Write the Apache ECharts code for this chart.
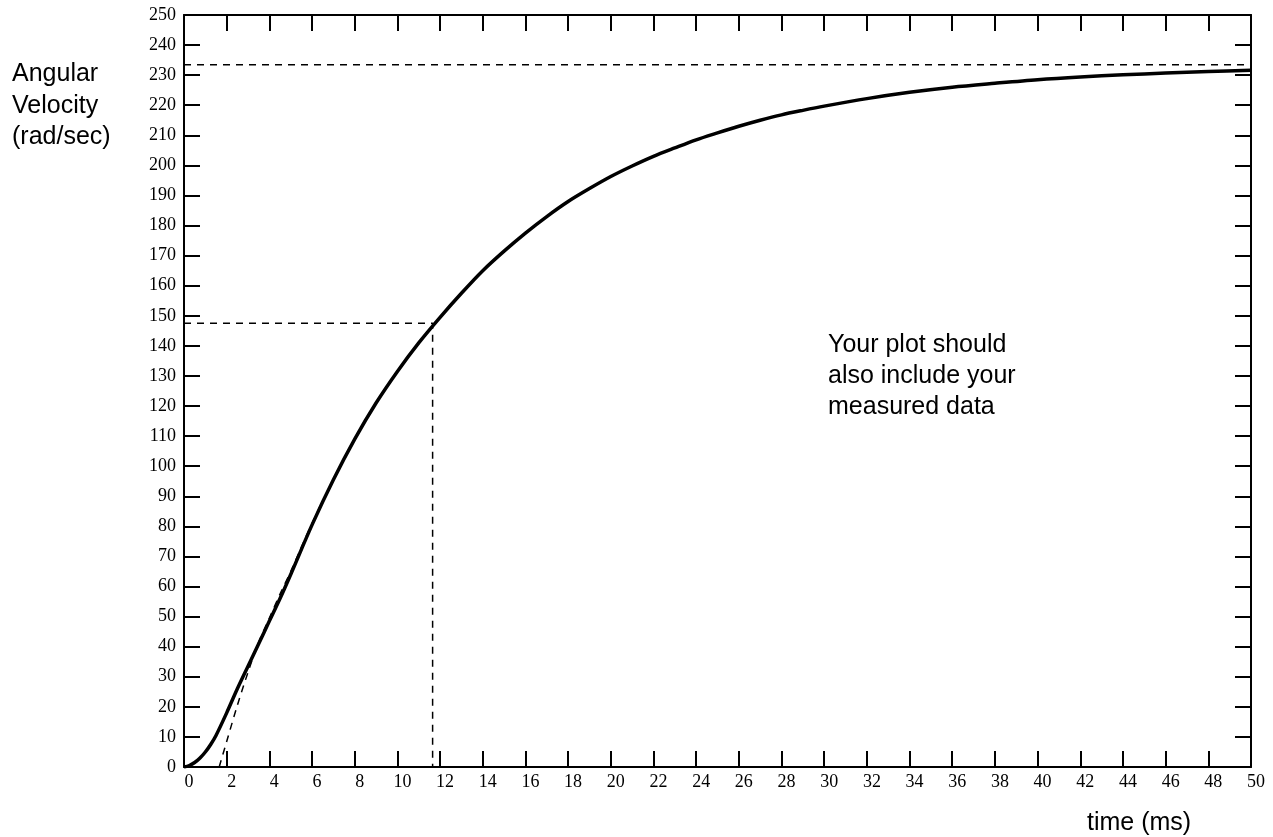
<!DOCTYPE html>
<html>
<head>
<meta charset="utf-8">
<script src="https://cdn.jsdelivr.net/npm/echarts@6/dist/echarts.min.js"></script>
<style>
html,body{margin:0;padding:0;background:#fff;}
#chart{width:1273px;height:837px;}
</style>
</head>
<body>
<div id="chart"></div>
<script>
// Measured response (solid curve)
var measuredTime = [0,0.25,0.5,0.75,1,1.25,1.5,2,2.5,3,3.5,4,4.5,5,6,7,8,9,10,11,12,13,14,15,16,17,18,19,20,21,22,23,24,25,26,27,28,29,30,32,34,36,38,40,42,44,46,48,50];
var measuredVelocity = [0,0.5,1.5,3,5,7.5,10.5,18,26,33.5,41,48.5,56,64,80.5,95.5,109,121,131.5,141,149.5,157.5,165,171.5,177.5,183,188,192.3,196.3,199.8,203,205.8,208.5,210.8,213,215,216.8,218.3,219.7,222.2,224.3,226,227.3,228.5,229.4,230.1,230.7,231.2,231.6];
// Model fit (dashed curve)
var modelTime = [1.65,2,2.5,3,3.5,4,4.5,5,6,7,8,9,10,11,12,13,14,15,16,17,18,19,20,21,22,23,24,25,26,27,28,29,30,32,34,36,38,40,42,44,46,48,50];
var modelVelocity = [0,8.5,20.5,31.5,41.5,49.5,57.5,65,81,95.5,109,121,131.5,141,149.5,157.5,165,171.5,177.5,183,188,192.3,196.3,199.8,203,205.8,208.5,210.8,213,215,216.8,218.3,219.7,222.2,224.3,226,227.3,228.5,229.4,230.1,230.7,231.2,231.6];
// Reference guide lines
var finalVelocity = 233.5;
var tauTime = 11.65;
var tauVelocity = 147.5;
var xTicks = {min: 0, max: 50, step: 2};
var yTicks = {min: 0, max: 250, step: 10};

function pairs(xs, ys){ return xs.map(function(x,i){ return [x, ys[i]]; }); }

var chart = echarts.init(document.getElementById('chart'), null, {renderer:'canvas'});
var axisLineStyle = {color:'#000', width:2};
var tickStyle = {color:'#000', width:2};
var serif = '"Liberation Serif","Times New Roman",serif';
var sans = '"Liberation Sans",Arial,sans-serif';

chart.setOption({
  animation:false,
  backgroundColor:'#fff',
  grid:{left:184, right:22, top:15, bottom:70, containLabel:false},
  xAxis:[{
    type:'value', position:'bottom', min:xTicks.min, max:xTicks.max, interval:xTicks.step,
    axisLine:{show:true, onZero:false, lineStyle:axisLineStyle},
    axisTick:{show:true, inside:true, length:16, lineStyle:tickStyle},
    axisLabel:{show:true, color:'#000', fontFamily:serif, fontSize:18, margin:6, padding:[0,0,0,10]},
    splitLine:{show:false}
  },{
    type:'value', position:'top', min:xTicks.min, max:xTicks.max, interval:xTicks.step,
    axisLine:{show:true, onZero:false, lineStyle:axisLineStyle},
    axisTick:{show:true, inside:true, length:16, lineStyle:tickStyle},
    axisLabel:{show:false}, splitLine:{show:false}
  }],
  yAxis:[{
    type:'value', position:'left', min:yTicks.min, max:yTicks.max, interval:yTicks.step,
    axisLine:{show:true, onZero:false, lineStyle:axisLineStyle},
    axisTick:{show:true, inside:true, length:16, lineStyle:tickStyle},
    axisLabel:{show:true, color:'#000', fontFamily:serif, fontSize:18, margin:8},
    splitLine:{show:false}
  },{
    type:'value', position:'right', min:yTicks.min, max:yTicks.max, interval:yTicks.step,
    axisLine:{show:true, onZero:false, lineStyle:axisLineStyle},
    axisTick:{show:true, inside:true, length:16, lineStyle:tickStyle},
    axisLabel:{show:false}, splitLine:{show:false}
  }],
  series:[{
    type:'line', name:'final', showSymbol:false, symbol:'none', silent:true,
    data:[[xTicks.min, finalVelocity],[xTicks.max, finalVelocity]],
    lineStyle:{color:'#000', width:1.5, type:[7,6]}
  },{
    type:'line', name:'tau', showSymbol:false, symbol:'none', silent:true,
    data:[[xTicks.min, tauVelocity],[tauTime, tauVelocity],[tauTime, 0]],
    lineStyle:{color:'#000', width:1.5, type:[7,6]}
  },{
    type:'line', name:'model', showSymbol:false, symbol:'none', silent:true, smooth:0.3,
    data:pairs(modelTime, modelVelocity),
    lineStyle:{color:'#000', width:1.5, type:[7,6]}
  },{
    type:'line', name:'measured', showSymbol:false, symbol:'none', silent:true, smooth:0.3,
    data:pairs(measuredTime, measuredVelocity),
    lineStyle:{color:'#000', width:3.5}
  }],
  graphic:[
    {type:'text', left:12, top:62, style:{text:'Angular', font:'25px '+sans, fill:'#000'}},
    {type:'text', left:12, top:94, style:{text:'Velocity', font:'25px '+sans, fill:'#000'}},
    {type:'text', left:12, top:125, style:{text:'(rad/sec)', font:'25px '+sans, fill:'#000'}},
    {type:'text', left:828, top:333, style:{text:'Your plot should', font:'25px '+sans, fill:'#000'}},
    {type:'text', left:828, top:364, style:{text:'also include your', font:'25px '+sans, fill:'#000'}},
    {type:'text', left:828, top:395, style:{text:'measured data', font:'25px '+sans, fill:'#000'}},
    {type:'text', left:1087, top:811, style:{text:'time (ms)', font:'25px '+sans, fill:'#000'}}
  ]
});
</script>
</body>
</html>
